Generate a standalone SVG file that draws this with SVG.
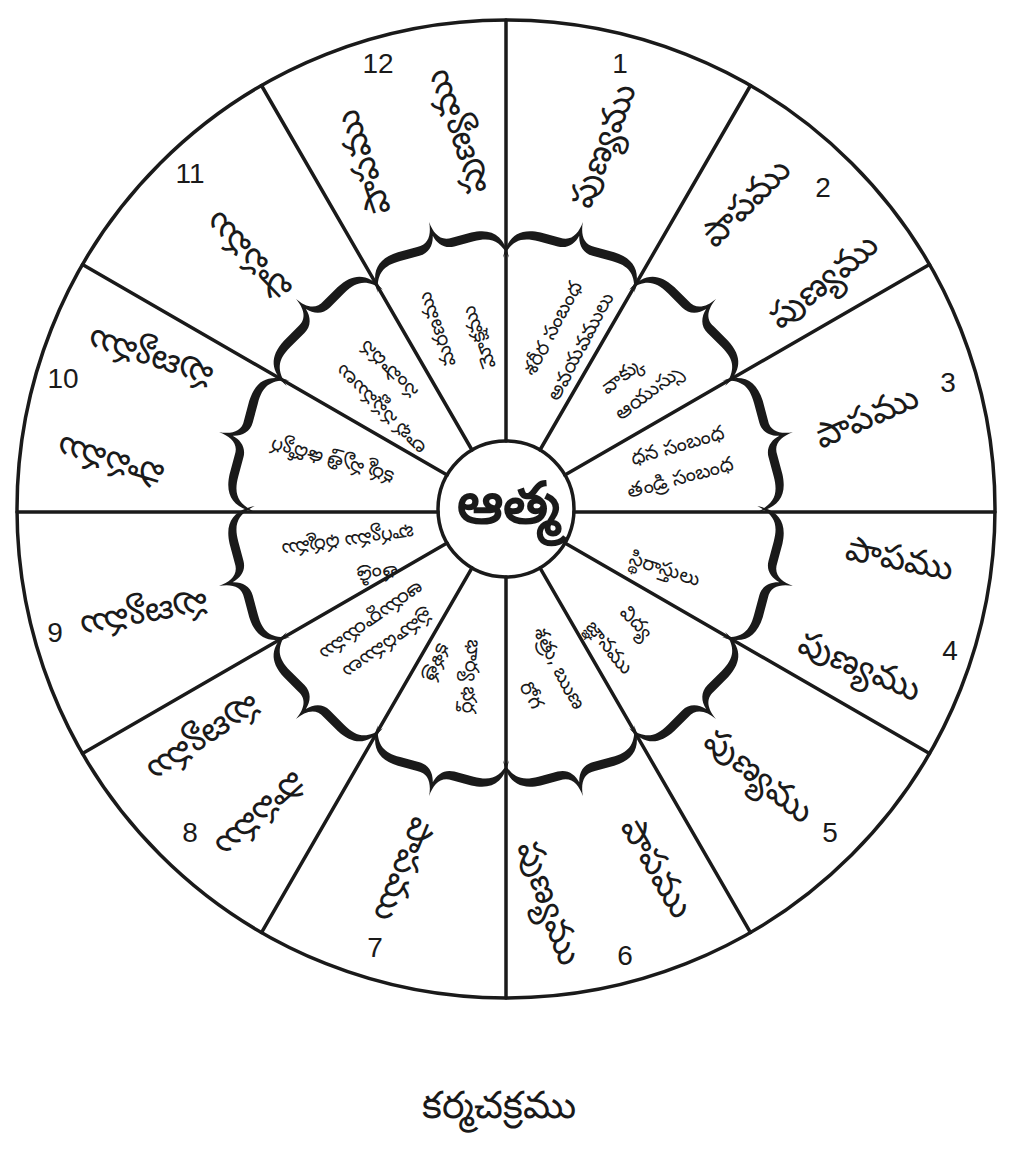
<svg xmlns="http://www.w3.org/2000/svg" xmlns:xlink="http://www.w3.org/1999/xlink" width="1012" height="1149" viewBox="0 0 1012 1149">
<style>
.ln{stroke:#1a1a1a;stroke-width:3.5;fill:none;stroke-linecap:round}
.big{font-family:"Noto Sans","DejaVu Sans",sans-serif;font-size:35px;fill:#1a1a1a;text-anchor:middle}
.sm{font-family:"Noto Sans","DejaVu Sans",sans-serif;font-size:20px;fill:#1a1a1a;text-anchor:middle}
.num{font-family:"Liberation Sans",Arial,sans-serif;font-size:28px;fill:#1a1a1a;text-anchor:middle}
</style>
<defs>
<path id="brace" fill="#1a1a1a" d="M -68,10 C -69,-12 -60,-23 -38,-24 L -18,-24 C -6,-23 -1,-33 0,-45 C 1,-33 6,-23 18,-24 L 38,-24 C 60,-23 69,-12 68,10 C 64,-8 57,-15 38,-15 L 18,-15 C 8,-15 2,-22 0,-31 C -2,-22 -8,-15 -18,-15 L -38,-15 C -57,-15 -64,-8 -68,10 Z"/>
</defs>
<rect width="1012" height="1149" fill="#ffffff"/>
<g id="wheel">
<circle class="ln" cx="506" cy="509" r="489" stroke-width="4"/>
</g>
<g id="connectors">
<line class="ln" x1="506" y1="441" x2="506" y2="20"/>
<line class="ln" x1="540" y1="450" x2="750.5" y2="85.5"/>
<line class="ln" x1="564.9" y1="475" x2="929.5" y2="264.5"/>
<line class="ln" x1="574" y1="512" x2="995" y2="512"/>
<line class="ln" x1="564.9" y1="543" x2="929.5" y2="753.5"/>
<line class="ln" x1="540" y1="567.9" x2="750.5" y2="932.5"/>
<line class="ln" x1="506" y1="577" x2="506" y2="998"/>
<line class="ln" x1="472" y1="567.9" x2="261.5" y2="932.5"/>
<line class="ln" x1="447.1" y1="543" x2="82.5" y2="753.5"/>
<line class="ln" x1="438" y1="512" x2="17" y2="512"/>
<line class="ln" x1="447.1" y1="475" x2="82.5" y2="264.5"/>
<line class="ln" x1="472" y1="450" x2="261.5" y2="85.5"/>
</g>
<g id="braces">
<use xlink:href="#brace" transform="translate(506,509) rotate(15) translate(0,-252)"/>
<use xlink:href="#brace" transform="translate(506,509) rotate(45) translate(0,-252)"/>
<use xlink:href="#brace" transform="translate(506,509) rotate(75) translate(0,-252)"/>
<use xlink:href="#brace" transform="translate(506,509) rotate(105) translate(0,-252)"/>
<use xlink:href="#brace" transform="translate(506,509) rotate(135) translate(0,-252)"/>
<use xlink:href="#brace" transform="translate(506,509) rotate(165) translate(0,-252)"/>
<use xlink:href="#brace" transform="translate(506,509) rotate(195) translate(0,-252)"/>
<use xlink:href="#brace" transform="translate(506,509) rotate(225) translate(0,-252)"/>
<use xlink:href="#brace" transform="translate(506,509) rotate(255) translate(0,-252)"/>
<use xlink:href="#brace" transform="translate(506,509) rotate(285) translate(0,-252)"/>
<use xlink:href="#brace" transform="translate(506,509) rotate(315) translate(0,-252)"/>
<use xlink:href="#brace" transform="translate(506,509) rotate(345) translate(0,-252)"/>
</g>
<g id="center">
<circle class="ln" cx="506" cy="509" r="68" fill="#ffffff"/>
<text x="508" y="523" font-family="'Noto Sans','DejaVu Sans',sans-serif" font-size="58" font-weight="bold" text-anchor="middle" fill="#1a1a1a">ఆత్మ</text>
</g>
<g id="house1">
<text class="num" x="620" y="73">1</text>
<text class="big" transform="translate(602,145) rotate(-69)" dy="12">పుణ్యము</text>
<text class="sm" transform="translate(552,328) rotate(-62)" dy="7">శరీర సంబంధ</text>
<text class="sm" transform="translate(580,346) rotate(-62)" dy="7">అవయవములు</text>
</g>
<g id="house2">
<text class="num" x="823" y="197">2</text>
<text class="big" transform="translate(745,202) rotate(-45)" dy="12">పాపము</text>
<text class="big" transform="translate(823,280) rotate(-39)" dy="12">పుణ్యము</text>
<text class="sm" transform="translate(622,375) rotate(-37)" dy="7">వాక్కు</text>
<text class="sm" transform="translate(648,392) rotate(-37)" dy="7">ఆయుస్సు</text>
</g>
<g id="house3">
<text class="num" x="948" y="392">3</text>
<text class="big" transform="translate(866,416) rotate(-24)" dy="12">పాపము</text>
<text class="sm" transform="translate(677,445) rotate(-16)" dy="7">ధన సంబంధ</text>
<text class="sm" transform="translate(680,477) rotate(-15)" dy="7">తండ్రి సంబంధ</text>
</g>
<g id="house4">
<text class="num" x="950" y="660">4</text>
<text class="big" transform="translate(900,558) rotate(11)" dy="12">పాపము</text>
<text class="big" transform="translate(860,665) rotate(23)" dy="12">పుణ్యము</text>
<text class="sm" transform="translate(665,568) rotate(18)" dy="7">స్థిరాస్తులు</text>
</g>
<g id="house5">
<text class="num" x="830" y="842">5</text>
<text class="big" transform="translate(760,775) rotate(39)" dy="12">పుణ్యము</text>
<text class="sm" transform="translate(637,622) rotate(47)" dy="7">విద్య</text>
<text class="sm" transform="translate(610,647) rotate(51)" dy="7">జ్ఞానము</text>
</g>
<g id="house6">
<text class="num" x="625" y="965">6</text>
<text class="big" transform="translate(658,867) rotate(60)" dy="12">పాపము</text>
<text class="big" transform="translate(550,903) rotate(70)" dy="12">పుణ్యము</text>
<text class="sm" transform="translate(560,668) rotate(63)" dy="7">శత్రు, ఋణ</text>
<text class="sm" transform="translate(532,695) rotate(63)" dy="7">రోగ</text>
</g>
<g id="house7">
<text class="num" x="375" y="957">7</text>
<text class="big" transform="translate(405,870) rotate(112)" dy="12">పాపము</text>
<text class="sm" transform="translate(472,677) rotate(95)" dy="7">భార్య భర్త</text>
<text class="sm" transform="translate(438,663) rotate(110)" dy="7">కళత్ర</text>
</g>
<g id="house8">
<text class="num" x="190" y="842">8</text>
<text class="big" transform="translate(205,740) rotate(146)" dy="12">పుణ్యము</text>
<text class="big" transform="translate(262,815) rotate(138)" dy="12">పాపము</text>
<text class="sm" transform="translate(372,622) rotate(145)" dy="7">ఆయుర్దాయము</text>
<text class="sm" transform="translate(388,645) rotate(145)" dy="7">ప్రమాదములు</text>
</g>
<g id="house9">
<text class="num" x="55" y="642">9</text>
<text class="big" transform="translate(145,617) rotate(169)" dy="12">పుణ్యము</text>
<text class="sm" transform="translate(348,542) rotate(172)" dy="7">భాగ్యము ధర్మము</text>
<text class="sm" transform="translate(378,575) rotate(170)" dy="7">తండ్రి</text>
</g>
<g id="house10">
<text class="num" x="63" y="388">10</text>
<text class="big" transform="translate(150,360) rotate(198)" dy="12">పుణ్యము</text>
<text class="big" transform="translate(110,463) rotate(197)" dy="12">పాపము</text>
<text class="sm" transform="translate(332,462) rotate(195)" dy="7">కర్మ వృత్తి ఉద్యోగ</text>
</g>
<g id="house11">
<text class="num" x="190" y="183">11</text>
<text class="big" transform="translate(248,257) rotate(226)" dy="12">పాపము</text>
<text class="sm" transform="translate(388,370) rotate(225)" dy="7">సంపాదన</text>
<text class="sm" transform="translate(380,410) rotate(225)" dy="7">లాభ  నష్టములు</text>
</g>
<g id="house12">
<text class="num" x="378" y="73">12</text>
<text class="big" transform="translate(455,133) rotate(251)" dy="12">పుణ్యము</text>
<text class="big" transform="translate(362,163) rotate(251)" dy="12">పాపము</text>
<text class="sm" transform="translate(435,330) rotate(250)" dy="8" font-size="24">మరణము</text>
<text class="sm" transform="translate(477,338) rotate(250)" dy="8" font-size="24">మోక్షము</text>
</g>
<g id="title">
<text x="499" y="1118" font-family="'Noto Sans','DejaVu Sans',sans-serif" font-size="38" text-anchor="middle" fill="#1a1a1a">కర్మచక్రము</text>
</g>
</svg>
